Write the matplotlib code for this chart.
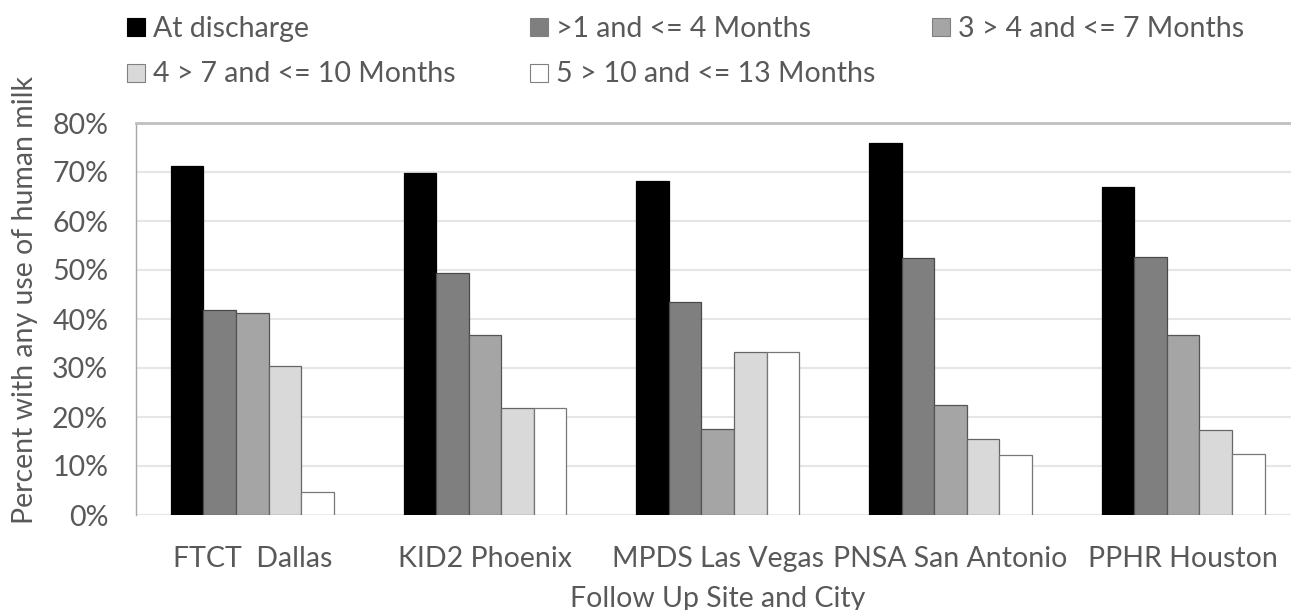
import matplotlib
matplotlib.use("Agg")
import matplotlib.pyplot as plt
from matplotlib.patches import Rectangle
import numpy as np

categories = ["FTCT  Dallas", "KID2 Phoenix", "MPDS Las Vegas", "PNSA San Antonio", "PPHR Houston"]
series_names = ["At discharge", ">1 and <= 4 Months", "3 > 4 and <= 7 Months",
                "4 > 7 and <= 10 Months", "5 > 10 and <= 13 Months"]
at_discharge = [71.3, 69.7, 68.2, 76.0, 66.9]
m1_4 = [41.8, 49.4, 43.5, 52.4, 52.7]
m4_7 = [41.2, 36.7, 17.5, 22.4, 36.8]
m7_10 = [30.5, 21.8, 33.2, 15.6, 17.3]
m10_13 = [4.6, 21.8, 33.2, 12.3, 12.5]
yticks = [0, 10, 20, 30, 40, 50, 60, 70, 80]
ytick_labels = ["0%", "10%", "20%", "30%", "40%", "50%", "60%", "70%", "80%"]

series = [at_discharge, m1_4, m4_7, m7_10, m10_13]
colors = ["#000000", "#7F7F7F", "#A5A5A5", "#D9D9D9", "#FFFFFF"]
edges = ["#000000", "#4A4A4A", "#555555", "#666666", "#777777"]

FONT = "Lato"
FS = 20.5
TXT = "#595959"
W, H = 1291, 610
fig = plt.figure(figsize=(W / 100, H / 100), dpi=100)

def fx(px):
    return px / W

def fy(py):
    return 1 - py / H

ax = fig.add_axes([fx(136), fy(515), 1163.5 / W, 392 / H])
x = np.arange(len(categories))
bw = 0.14
for i, (vals, c, ec) in enumerate(zip(series, colors, edges)):
    ax.bar(x + (i - 2) * bw, vals, width=bw, color=c, edgecolor=ec, linewidth=0.9, zorder=3)

ax.set_xlim(-0.5, 4.5)
ax.set_ylim(0, 80)
ax.set_yticks(yticks)
ax.set_yticklabels(ytick_labels)
ax.set_xticks(x)
ax.set_xticklabels(categories)
ax.tick_params(axis="both", length=0, labelcolor=TXT, labelsize=FS)
ax.tick_params(axis="y", pad=20)
ax.tick_params(axis="x", pad=22)
for lab in ax.get_xticklabels() + ax.get_yticklabels():
    lab.set_fontfamily(FONT)
ax.grid(axis="y", color="#E6E6E6", linewidth=1.5, zorder=0)
ax.set_axisbelow(True)
for s in ["right", "bottom"]:
    ax.spines[s].set_visible(False)
ax.spines["top"].set_color("#BFBFBF")
ax.spines["top"].set_linewidth(2.0)
ax.spines["left"].set_color("#A6A6A6")
ax.spines["left"].set_linewidth(1.0)

ax.set_xlabel("Follow Up Site and City", fontsize=FS, color=TXT, family=FONT)
ax.xaxis.set_label_coords(fx(718), fy(607), transform=fig.transFigure)
ax.xaxis.label.set_va("baseline")
fig.text(fx(25), fy(524), "Percent with any use of human milk", rotation=90,
         ha="center", va="bottom", fontsize=FS, color=TXT, family=FONT)

# legend
leg_pos = [(127, 27), (530, 27), (932, 27), (127, 72.5), (530, 72.5)]
sq = 18
for (px, py), name, c in zip(leg_pos, series_names, colors):
    ec = "#000000" if c == "#000000" else "#808080"
    fig.add_artist(Rectangle((fx(px), fy(py + sq / 2)), sq / W, sq / H,
                             transform=fig.transFigure, facecolor=c, edgecolor=ec, linewidth=0.8))
    fig.text(fx(px + sq + 8), fy(py + 10), name, ha="left", va="baseline",
             fontsize=FS, color=TXT, family=FONT)

fig.savefig("out.png", dpi=100)
